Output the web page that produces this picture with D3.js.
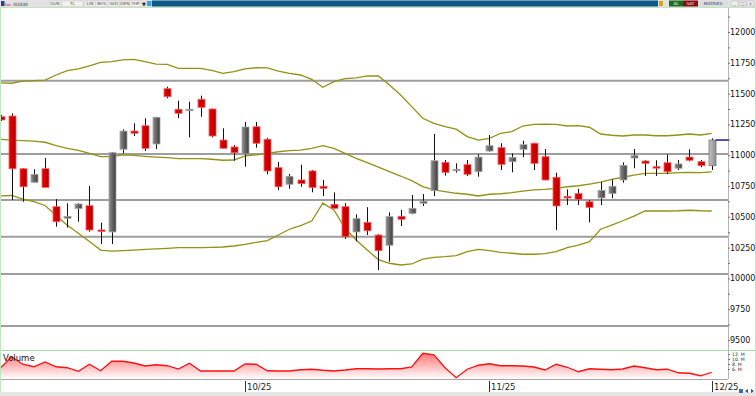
<!DOCTYPE html>
<html>
<head>
<meta charset="utf-8">
<script src="https://cdn.jsdelivr.net/npm/d3@7"></script>
<style>
  html, body { margin: 0; padding: 0; background: #fff; overflow: hidden; }
  #chart { width: 756px; height: 396px; }
  text { font-family: "DejaVu Sans", sans-serif; }
</style>
</head>
<body>
<div id="chart"></div>
<script>
// Daily candles, oldest first
const candleOpen = [11312, 11318, 10890, 10780, 10890, 10582, 10488, 10566, 10590, 10393,
  10377, 11048, 11196, 11239, 11091, 11540, 11373, 11369, 11454, 11375,
  11123, 11067, 11010, 11231, 11129, 10899, 10764, 10799, 10872, 10748,
  10601, 10582, 10377, 10455, 10352, 10269, 10504, 10528, 10610, 10712,
  10942, 10882, 10923, 10866, 11034, 11061, 10947, 11048, 11097, 10988,
  10821, 10666, 10688, 10622, 10653, 10688, 10799, 10977, 10953, 10907,
  10939, 10894, 10985, 10947, 10915];
const candleHigh = [11326, 11340, 10896, 10886, 10977, 10644, 10610, 10610, 10750, 10452,
  11026, 11210, 11259, 11300, 11310, 11556, 11442, 11434, 11483, 11379,
  11218, 11083, 11270, 11270, 11140, 10945, 10847, 10923, 10880, 10799,
  10699, 10610, 10520, 10578, 10358, 10536, 10555, 10677, 10685, 11172,
  10961, 10934, 10961, 11007, 11164, 11097, 11015, 11118, 11101, 11050,
  10858, 10723, 10728, 10636, 10782, 10804, 10942, 11050, 10959, 10959,
  11007, 10961, 11048, 10961, 11137];
const candleLow = [11278, 10636, 10622, 10778, 10738, 10420, 10412, 10460, 10379, 10279,
  10279, 11015, 11156, 11034, 11050, 11462, 11300, 11145, 11312, 11145,
  11054, 10955, 10907, 11061, 10845, 10717, 10728, 10744, 10699, 10669,
  10567, 10320, 10301, 10352, 10068, 10135, 10425, 10520, 10588, 10669,
  10834, 10858, 10831, 10825, 11028, 10880, 10861, 10983, 10880, 10795,
  10393, 10596, 10596, 10455, 10596, 10650, 10777, 10894, 10831, 10831,
  10847, 10880, 10950, 10902, 10880];
const candleClose = [11286, 10890, 10744, 10845, 10739, 10460, 10504, 10604, 10393, 10386,
  11020, 11196, 11178, 11056, 11308, 11475, 11340, 11373, 11389, 11156,
  11056, 11020, 11229, 11097, 10872, 10744, 10829, 10769, 10739, 10731,
  10569, 10338, 10485, 10387, 10225, 10501, 10480, 10569, 10626, 10955,
  10861, 10886, 10845, 10985, 11077, 10926, 10983, 11085, 10934, 10799,
  10588, 10653, 10642, 10577, 10715, 10748, 10918, 10996, 10934, 10900,
  10866, 10929, 10959, 10915, 11123];

// Bollinger bands
const bandUpper = [11588, 11584, 11602, 11606, 11610, 11651, 11686, 11700, 11726, 11754,
  11759, 11773, 11778, 11759, 11740, 11738, 11705, 11705, 11705, 11689,
  11665, 11678, 11700, 11710, 11708, 11683, 11665, 11651, 11616, 11551,
  11597, 11621, 11627, 11643, 11643, 11570, 11489, 11394, 11300, 11259,
  11232, 11211, 11151, 11123, 11136, 11178, 11191, 11237, 11251, 11253,
  11251, 11237, 11240, 11227, 11172, 11162, 11156, 11164, 11164, 11158,
  11158, 11164, 11172, 11164, 11178];
const bandMiddle = [11129, 11123, 11119, 11115, 11105, 11077, 11056, 11040, 11015, 10988,
  10988, 11002, 10999, 10991, 10985, 10980, 10972, 10972, 10972, 10967,
  10959, 10961, 10994, 11002, 11015, 11028, 11037, 11042, 11056, 11077,
  11056, 11015, 10975, 10939, 10904, 10866, 10831, 10793, 10745, 10718,
  10704, 10691, 10683, 10669, 10683, 10687, 10696, 10709, 10718, 10723,
  10731, 10744, 10752, 10766, 10782, 10804, 10821, 10839, 10853, 10853,
  10853, 10858, 10861, 10858, 10864];
const bandLower = [10669, 10673, 10644, 10623, 10592, 10511, 10431, 10366, 10300, 10230,
  10222, 10225, 10230, 10236, 10239, 10244, 10249, 10249, 10249, 10252,
  10255, 10263, 10277, 10293, 10306, 10352, 10399, 10428, 10466, 10610,
  10555, 10407, 10312, 10230, 10153, 10123, 10109, 10117, 10157, 10171,
  10176, 10184, 10217, 10236, 10225, 10212, 10204, 10196, 10196, 10201,
  10217, 10249, 10271, 10298, 10399, 10433, 10468, 10506, 10547, 10547,
  10547, 10549, 10553, 10549, 10547];

// Volume, millions
const volume = [6.5, 10.9, 7.9, 6.9, 8.8, 6.9, 6.5, 5.1, 7.9, 5.3,
  9.1, 9.1, 8.4, 7.2, 7.7, 7.3, 6.0, 8.3, 5.2, 5.2,
  5.2, 5.2, 8.0, 7.9, 5.3, 5.2, 5.2, 5.7, 5.9, 5.5,
  5.2, 5.6, 6.1, 6.1, 6.0, 6.1, 6.1, 6.8, 12.3, 11.7,
  6.5, 2.5, 5.9, 7.5, 8.1, 7.3, 7.3, 7.2, 6.8, 5.6,
  7.9, 6.7, 4.9, 6.1, 5.9, 5.7, 6.0, 7.2, 6.5, 5.7,
  5.9, 4.5, 4.3, 3.3, 4.7];

// horizontal support / resistance lines
const priceLevels = [11605, 11010, 10636, 10339, 10036, 9614];

const dateTickIndex = [22, 44, 64];
const dateTickLabels = ["10/25", "11/25", "12/25"];
const volumeTicks = [12, 10, 8, 6];
const volumeTickLabels = ["12. M", "10. M", "8. M", "6. M"];

class CandleVis {
  constructor(parentElement) {
    this.parentElement = parentElement;
    this.initVis();
  }

  initVis() {
    let vis = this;
    vis.width = 756;
    vis.height = 396;
    vis.plotRight = 728;

    vis.svg = d3.select("#" + vis.parentElement)
      .append("svg")
      .attr("width", vis.width)
      .attr("height", vis.height);

    // scales
    vis.x = d3.scaleLinear().domain([0, candleOpen.length - 1]).range([0.6, 711.7]);
    vis.y = d3.scaleLinear().domain([9500, 12000]).range([340, 32]);
    vis.yVol = d3.scaleLinear().domain([2, 12]).range([379, 354]);

    let defs = vis.svg.append("defs");
    const hGrad = (id, c0, c1) => {
      let g = defs.append("linearGradient").attr("id", id)
        .attr("x1", "0%").attr("x2", "100%").attr("y1", "0%").attr("y2", "0%");
      g.append("stop").attr("offset", "0%").attr("stop-color", c0);
      g.append("stop").attr("offset", "100%").attr("stop-color", c1);
    };
    hGrad("gradDown", "#f00000", "#a80000");
    hGrad("gradUp", "#8c8c8c", "#3c3c3c");
    hGrad("gradLast", "#c4c4c4", "#8c8c8c");

    let vg = defs.append("linearGradient").attr("id", "gradVol")
      .attr("gradientUnits", "userSpaceOnUse")
      .attr("x1", 0).attr("x2", 0).attr("y1", 352).attr("y2", 379);
    vg.append("stop").attr("offset", "0%").attr("stop-color", "#ff7070");
    vg.append("stop").attr("offset", "100%").attr("stop-color", "#ffffff");

    defs.append("clipPath").attr("id", "clipMain")
      .append("rect").attr("x", 1).attr("y", 8).attr("width", vis.plotRight - 1).attr("height", 341);
    defs.append("clipPath").attr("id", "clipVol")
      .append("rect").attr("x", 1).attr("y", 351).attr("width", vis.plotRight - 1).attr("height", 28);

    vis.wrangleData();
  }

  wrangleData() {
    let vis = this;
    vis.candles = candleOpen.map((o, i) => ({
      i: i,
      open: o,
      high: candleHigh[i],
      low: candleLow[i],
      close: candleClose[i],
      last: i === candleOpen.length - 1
    }));
    vis.updateVis();
  }

  updateVis() {
    let vis = this;

    vis.drawToolbar();

    // frame lines
    vis.svg.append("rect").attr("x", 0).attr("y", 392).attr("width", vis.width).attr("height", 4).attr("fill", "#e6e6e6");
    vis.svg.append("line").attr("x1", 0).attr("x2", vis.width).attr("y1", 7.5).attr("y2", 7.5)
      .attr("stroke", "#bfe6bf");
    vis.svg.append("line").attr("x1", 0).attr("x2", vis.width).attr("y1", 350.5).attr("y2", 350.5)
      .attr("stroke", "#a9dca9");
    vis.svg.append("line").attr("x1", 0.5).attr("x2", 0.5).attr("y1", 7).attr("y2", 392)
      .attr("stroke", "#bfe6bf");
    vis.svg.append("line").attr("x1", 755.5).attr("x2", 755.5).attr("y1", 7).attr("y2", 392)
      .attr("stroke", "#bfe6bf");
    vis.svg.append("line").attr("x1", 728.5).attr("x2", 728.5).attr("y1", 8).attr("y2", 379)
      .attr("stroke", "#b4b4b4");
    vis.svg.append("line").attr("x1", 1).attr("x2", vis.plotRight).attr("y1", 379.5).attr("y2", 379.5)
      .attr("stroke", "#a8a8a8");

    let main = vis.svg.append("g").attr("clip-path", "url(#clipMain)");

    // support / resistance levels
    main.selectAll(".level")
      .data(priceLevels)
      .join("line")
      .attr("class", "level")
      .attr("x1", 0).attr("x2", vis.plotRight)
      .attr("y1", d => vis.y(d)).attr("y2", d => vis.y(d))
      .attr("stroke", "#9e9e9e")
      .attr("stroke-width", 2);

    // bollinger bands
    let bandLine = d3.line().x((d, i) => vis.x(i)).y(d => vis.y(d));
    main.selectAll(".band")
      .data([bandUpper, bandMiddle, bandLower])
      .join("path")
      .attr("class", "band")
      .attr("d", bandLine)
      .attr("fill", "none")
      .attr("stroke", "#929214")
      .attr("stroke-width", 1.3);

    // wicks
    main.selectAll(".wick")
      .data(vis.candles)
      .join("line")
      .attr("class", "wick")
      .attr("x1", d => Math.round(vis.x(d.i)) + 0.5)
      .attr("x2", d => Math.round(vis.x(d.i)) + 0.5)
      .attr("y1", d => vis.y(d.high))
      .attr("y2", d => vis.y(d.low))
      .attr("stroke", "#111")
      .attr("stroke-width", 1);

    // bodies
    main.selectAll(".body")
      .data(vis.candles)
      .join("rect")
      .attr("class", "body")
      .attr("x", d => Math.round(vis.x(d.i)) - 3)
      .attr("width", 7)
      .attr("y", d => vis.y(Math.max(d.open, d.close)))
      .attr("height", d => Math.max(1.5, Math.abs(vis.y(d.open) - vis.y(d.close))))
      .attr("fill", d => d.last ? "url(#gradLast)" : (d.close >= d.open ? "url(#gradUp)" : "url(#gradDown)"))
      .attr("stroke", d => d.last ? "#7a7a7a" : (d.close >= d.open ? "#a6a6a6" : "#ff5a5a"))
      .attr("stroke-width", 0.8);

    // last price marker
    let lastC = vis.candles[vis.candles.length - 1];
    vis.svg.append("line")
      .attr("x1", vis.x(lastC.i) + 4).attr("x2", 729)
      .attr("y1", vis.y(lastC.close)).attr("y2", vis.y(lastC.close))
      .attr("stroke", "#1c1c8c").attr("stroke-width", 1.5);

    // price axis
    let priceAxis = d3.axisRight(vis.y)
      .tickValues(d3.range(9500, 12126, 125))
      .tickSize(2)
      .tickPadding(0)
      .tickFormat(d => d % 250 === 0 ? d3.format("d")(d) : "");
    let gAxis = vis.svg.append("g")
      .attr("transform", "translate(" + vis.plotRight + ",0)")
      .call(priceAxis);
    gAxis.select(".domain").remove();
    gAxis.selectAll("line").attr("stroke", "#777");
    gAxis.selectAll("text").attr("font-size", "8px").attr("fill", "#111").attr("font-family", "DejaVu Sans");

    // volume panel
    let vol = vis.svg.append("g").attr("clip-path", "url(#clipVol)");
    let volArea = d3.area().x((d, i) => vis.x(i)).y0(379).y1(d => vis.yVol(d));
    let volLine = d3.line().x((d, i) => vis.x(i)).y(d => vis.yVol(d));
    vol.append("path").datum(volume).attr("d", volArea).attr("fill", "url(#gradVol)");
    vol.append("path").datum(volume).attr("d", volLine)
      .attr("fill", "none").attr("stroke", "#ff1010").attr("stroke-width", 1.3);

    vis.svg.append("text")
      .attr("x", 3).attr("y", 361)
      .attr("font-size", "8.5px").attr("fill", "#111")
      .text("Volume");

    let volAxis = d3.axisRight(vis.yVol)
      .tickValues(volumeTicks)
      .tickSize(2)
      .tickPadding(2)
      .tickFormat((d, i) => volumeTickLabels[i]);
    let gVol = vis.svg.append("g")
      .attr("transform", "translate(" + vis.plotRight + ",0)")
      .call(volAxis);
    gVol.select(".domain").remove();
    gVol.selectAll("line").attr("stroke", "#777");
    gVol.selectAll("text").attr("font-size", "4.6px").attr("fill", "#222").attr("font-family", "DejaVu Sans");

    // date axis
    let gDates = vis.svg.append("g");
    gDates.selectAll("line")
      .data(dateTickIndex)
      .join("line")
      .attr("x1", d => Math.round(vis.x(d)) + 0.5)
      .attr("x2", d => Math.round(vis.x(d)) + 0.5)
      .attr("y1", 381).attr("y2", 392)
      .attr("stroke", "#333");
    gDates.selectAll("text")
      .data(dateTickIndex)
      .join("text")
      .attr("x", d => Math.round(vis.x(d)) + 2)
      .attr("y", 390)
      .attr("font-size", "8.5px")
      .attr("fill", "#222")
      .text((d, i) => dateTickLabels[i]);

    // little navigation icons bottom right
    vis.svg.append("rect").attr("x", 739).attr("y", 389).attr("width", 4).attr("height", 4).attr("fill", "#3a6fb0");
    vis.svg.append("path").attr("d", "M745,391 l3,-2 v4 z M754,391 l-3,-2 v4 z").attr("fill", "#2a4f90");
  }

  drawToolbar() {
    let vis = this;
    let bar = vis.svg.append("g");
    bar.append("rect").attr("x", 0).attr("y", 0).attr("width", vis.width).attr("height", 7).attr("fill", "#e2e2e2");
    bar.append("rect").attr("x", 152).attr("y", 0.5).attr("width", 506).attr("height", 6).attr("fill", "#0d5886");

    // left-side buttons
    bar.append("rect").attr("x", 1).attr("y", 1).attr("width", 3.5).attr("height", 5).attr("fill", "#2b3f8c");
    bar.append("text").attr("x", 5).attr("y", 5.6).attr("font-size", "3.6px").attr("fill", "#d00000").text("Fav");
    bar.append("text").attr("x", 13).attr("y", 5.6).attr("font-size", "4.5px").attr("fill", "#333").text("XU030");
    const buttons = [["GUN", 49, 12], ["TL", 62, 21], ["LIN", 85, 10], ["BHS", 96, 11],
      ["SVD", 108, 11], ["ORN", 120, 10], ["THP", 130, 11]];
    buttons.forEach(([label, bx, bw]) => {
      bar.append("rect").attr("x", bx).attr("y", 1).attr("width", bw).attr("height", 5.5)
        .attr("fill", "#f2f2f2").attr("stroke", "#c8c8c8").attr("stroke-width", 0.5);
      bar.append("text").attr("x", bx + bw / 2).attr("y", 5.4).attr("text-anchor", "middle")
        .attr("font-size", "4.2px").attr("fill", "#444").text(label);
    });
    bar.append("text").attr("x", 142).attr("y", 5.8).attr("font-size", "5px").attr("fill", "#222").text("▼");
    bar.append("rect").attr("x", 147).attr("y", 1).attr("width", 4.5).attr("height", 5).attr("fill", "#3aa0e0");

    // right-side buttons
    bar.append("rect").attr("x", 659).attr("y", 1).attr("width", 4).attr("height", 5).attr("fill", "#e0a020");
    bar.append("rect").attr("x", 664).attr("y", 1).attr("width", 4).attr("height", 5).attr("fill", "#d8e8d8");
    bar.append("rect").attr("x", 669).attr("y", 0.5).attr("width", 14).attr("height", 6).attr("fill", "#1f6b1f");
    bar.append("text").attr("x", 676).attr("y", 5.4).attr("text-anchor", "middle")
      .attr("font-size", "4.2px").attr("fill", "#fff").text("AL");
    bar.append("rect").attr("x", 683).attr("y", 0.5).attr("width", 15).attr("height", 6).attr("fill", "#8a0c0c");
    bar.append("text").attr("x", 690.5).attr("y", 5.4).attr("text-anchor", "middle")
      .attr("font-size", "4.2px").attr("fill", "#fff").text("SAT");
    bar.append("rect").attr("x", 698).attr("y", 0.5).attr("width", 30).attr("height", 6).attr("fill", "#dcdcdc");
    bar.append("text").attr("x", 713).attr("y", 5.4).attr("text-anchor", "middle")
      .attr("font-size", "4.2px").attr("fill", "#2a3a6a").text("MATRIKS");
    [731, 739, 747].forEach((bx, k) => {
      bar.append("rect").attr("x", bx).attr("y", 1).attr("width", 7).attr("height", 5)
        .attr("fill", "#eeeeee").attr("stroke", "#b8b8b8").attr("stroke-width", 0.5);
      bar.append("text").attr("x", bx + 3.5).attr("y", 5.3).attr("text-anchor", "middle")
        .attr("font-size", "4px").attr("fill", "#555").text(["_", "□", "x"][k]);
    });
  }
}

new CandleVis("chart");
</script>
</body>
</html>
